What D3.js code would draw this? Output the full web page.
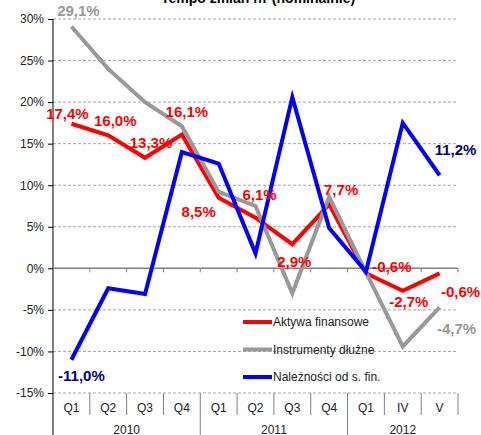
<!DOCTYPE html>
<html><head><meta charset="utf-8">
<script src="https://cdn.jsdelivr.net/npm/d3@7/dist/d3.min.js"></script>
<style>body{margin:0;background:#fff;}svg{display:block;font-family:"Liberation Sans",Arial,sans-serif;}</style>
</head><body>
<svg id="c" width="481" height="435"></svg>
<script>
const categories = ["Q1","Q2","Q3","Q4","Q1","Q2","Q3","Q4","Q1","IV","V"];
const years = [{label:"2010", from:0, to:4},{label:"2011", from:4, to:8},{label:"2012", from:8, to:11}];
const aktywa = [17.4, 16.0, 13.3, 16.1, 8.5, 6.1, 2.9, 7.7, -0.6, -2.7, -0.6];
const instrumenty = [29.1, 24.0, 20.0, 17.1, 9.2, 7.5, -3.0, 8.6, -0.5, -9.4, -4.7];
const naleznosci = [-11.0, -2.4, -3.1, 14.0, 12.6, 1.8, 20.6, 4.85, -0.4, 17.5, 11.2];
const yTicks = [30, 25, 20, 15, 10, 5, 0, -5, -10, -15];
const seriesNames = ["Aktywa finansowe", "Instrumenty dłużne", "Należności od s. fin."];
const title = "Tempo zmian r/r (nominalnie)";

const series = [
  {name: seriesNames[0], values: aktywa, color: "#ff0000", labelColor: "#ff0000"},
  {name: seriesNames[1], values: instrumenty, color: "#999999", labelColor: "#999999"},
  {name: seriesNames[2], values: naleznosci, color: "#0000ff", labelColor: "#000080"}
];
// labels: [seriesIndex, pointIndex, dx, dy]
const labelSpec = [
  [0,0,-4,-10],[0,1,7,-15],[0,2,6,-15],[0,3,5,-23],[0,4,-20,14],[0,5,4,-23],
  [0,6,2,17],[0,7,12,-15],[0,8,26,-7],[0,9,6,11],[0,10,21,18],
  [1,0,7,-16],[1,10,17,21],
  [2,0,10,16],[2,10,16,-26]
];

const svg = d3.select("#c");
const L = 53, R = 458, T = 19, B = 393;
const x = d3.scaleBand().domain(d3.range(categories.length)).range([L, R]);
const y = d3.scaleLinear().domain([-15, 30]).range([B, T]);
const fmt = v => (v.toFixed(1).replace(".", ",")) + "%";

// title (mostly cut off)
svg.append("text").attr("x", 258).attr("y", 3).attr("text-anchor","middle")
  .attr("font-size", 14).attr("font-weight","bold").attr("fill","#000").text(title);

// gridlines
svg.append("g").selectAll("line").data(yTicks.filter(t => t !== 0)).join("line")
  .attr("x1", L).attr("x2", R).attr("y1", d => y(d)).attr("y2", d => y(d))
  .attr("stroke", "#a6a6a6").attr("stroke-width", 1).attr("stroke-dasharray", "3,2");

// y axis
const yAxis = d3.axisLeft(y).tickValues(yTicks).tickSize(5).tickFormat(d => d + "%");
const ga = svg.append("g").attr("transform", `translate(${L},0)`).call(yAxis);
ga.select(".domain").remove();
ga.selectAll(".tick line").attr("stroke", "#000");
ga.selectAll(".tick text").attr("font-size", 12).attr("fill", "#222").attr("font-family","Liberation Sans, Arial, sans-serif").attr("x", -9);
svg.append("line").attr("x1", L).attr("x2", L).attr("y1", T).attr("y2", 435).attr("stroke", "#000").attr("stroke-width", 1);

// zero axis line with tick marks
svg.append("line").attr("x1", L).attr("x2", R).attr("y1", y(0)).attr("y2", y(0)).attr("stroke", "#808080").attr("stroke-width", 1.5);
svg.append("g").selectAll("line").data(d3.range(1, categories.length + 1)).join("line")
  .attr("x1", i => x(i - 1) + x.bandwidth()).attr("x2", i => x(i - 1) + x.bandwidth())
  .attr("y1", y(0)).attr("y2", y(0) + 4).attr("stroke", "#808080").attr("stroke-width", 1);

// category separators below plot
const yearBounds = years.map(yy => yy.to);
svg.append("g").selectAll("line").data(d3.range(1, categories.length + 1)).join("line")
  .attr("x1", i => x(i - 1) + x.bandwidth()).attr("x2", i => x(i - 1) + x.bandwidth())
  .attr("y1", B).attr("y2", i => (yearBounds.includes(i) && i < categories.length) ? 435 : 415)
  .attr("stroke", "#808080").attr("stroke-width", 1);

// category labels
svg.append("g").selectAll("text").data(categories).join("text")
  .attr("x", (d, i) => x(i) + x.bandwidth() / 2).attr("y", 412)
  .attr("text-anchor", "middle").attr("font-size", 12).attr("fill", "#222").text(d => d);
// year labels
svg.append("g").selectAll("text").data(years).join("text")
  .attr("x", d => (x(d.from) + x(d.to - 1) + x.bandwidth()) / 2).attr("y", 434)
  .attr("text-anchor", "middle").attr("font-size", 12).attr("fill", "#222").text(d => d.label);

// lines
const line = d3.line().x((d, i) => x(i) + x.bandwidth() / 2).y(d => y(d));
svg.append("g").selectAll("path").data(series).join("path")
  .attr("d", d => line(d.values)).attr("fill", "none")
  .attr("stroke", d => d.color).attr("stroke-width", 4).attr("stroke-linejoin", "miter");

// legend
const lg = svg.append("g");
series.forEach((s, i) => {
  const ly = 322 + i * 27.5;
  lg.append("line").attr("x1", 243).attr("x2", 272).attr("y1", ly).attr("y2", ly)
    .attr("stroke", s.color).attr("stroke-width", 4);
  lg.append("text").attr("x", 273).attr("y", ly).attr("dominant-baseline", "central")
    .attr("font-size", 12).attr("fill", "#222").text(s.name);
});

// data labels
svg.append("g").selectAll("text").data(labelSpec).join("text")
  .attr("x", d => x(d[1]) + x.bandwidth() / 2 + d[2])
  .attr("y", d => y(series[d[0]].values[d[1]]) + d[3])
  .attr("text-anchor", "middle").attr("dominant-baseline", "central")
  .attr("font-size", 15).attr("font-weight", "bold")
  .attr("fill", d => series[d[0]].labelColor)
  .text(d => fmt(series[d[0]].values[d[1]]));
</script>
</body></html>
